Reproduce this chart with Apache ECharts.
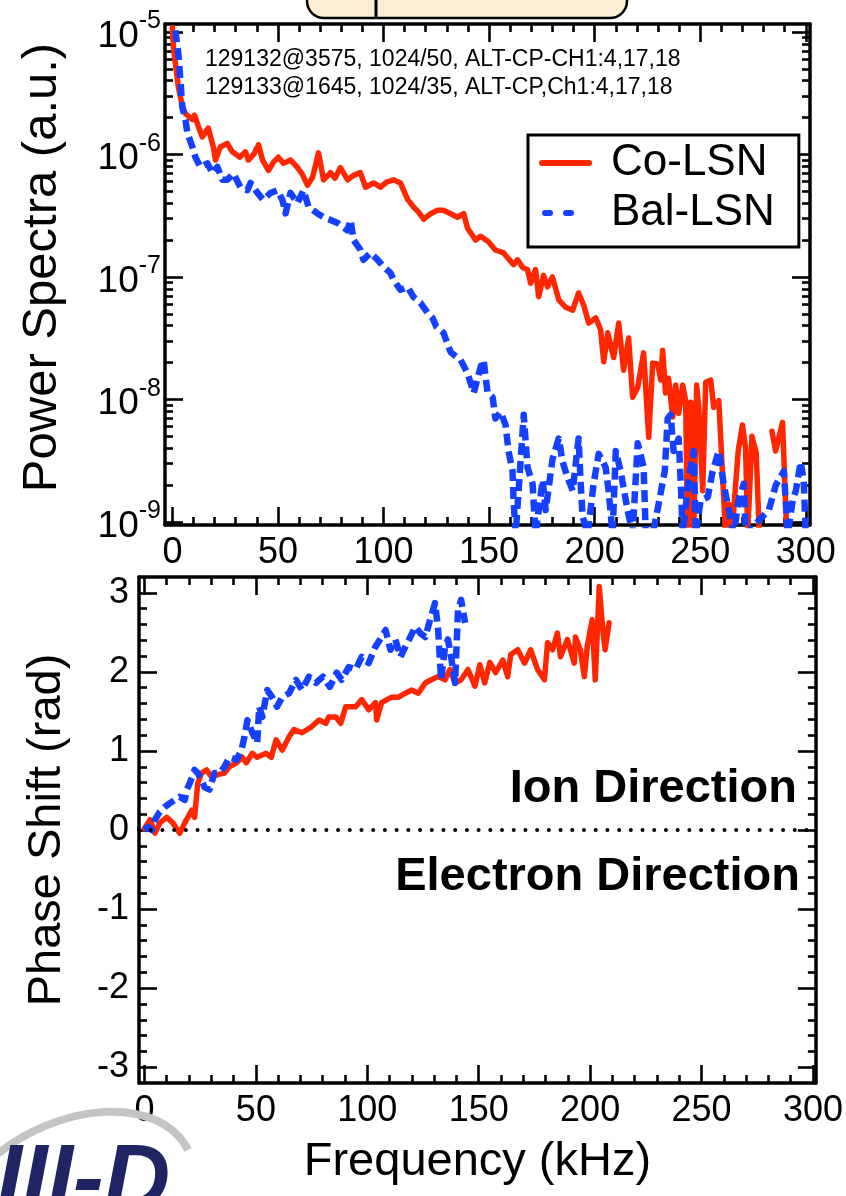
<!DOCTYPE html>
<html><head><meta charset="utf-8">
<script src="https://cdn.jsdelivr.net/npm/echarts@6/dist/echarts.min.js"></script>
<style>html,body{margin:0;padding:0;background:#fff}#c{width:846px;height:1196px}</style>
</head><body><div id="c"></div>
<script>
// ---------------- data ----------------
const seriesNames = ['Co-LSN', 'Bal-LSN'];
const annotationLines = ['129132@3575, 1024/50, ALT-CP-CH1:4,17,18', '129133@1645, 1024/35, ALT-CP,Ch1:4,17,18'];
const freqTicks = [0, 50, 100, 150, 200, 250, 300];
const spectrumTickValues = [1e-9, 1e-8, 1e-7, 1e-6, 1e-5];
const spectrumTickExponents = ['-9', '-8', '-7', '-6', '-5'];
const phaseTicks = [-3, -2, -1, 0, 1, 2, 3];

// Power spectra [kHz, a.u.]  (values below the axis floor fall off the plot)
const coLsnSpectrum = [
 [0,1.08e-5],[0.5,7.5e-6],[2.8,3.55e-6],[4.7,2.5e-6],[6.2,2.15e-6],[9.5,1.92e-6],[10.5,2.09e-6],[12.3,1.69e-6],
 [14.2,1.39e-6],[17,1.64e-6],[19.4,1.15e-6],[20.4,9.0e-7],[22.7,1.15e-6],[26,1.23e-6],[28.4,1.05e-6],[32,9.5e-7],
 [34.6,1.05e-6],[36,9.0e-7],[38.5,1.0e-6],[40.8,1.2e-6],[42.7,9.0e-7],[45.5,7.4e-7],[48,8.7e-7],[50.2,9.5e-7],
 [52.6,8.45e-7],[56,9.0e-7],[59,7.9e-7],[61.5,6.9e-7],[64,5.6e-7],[66.4,6.5e-7],[69.2,1.03e-6],[71.6,6.2e-7],
 [74.9,7.1e-7],[77,6.4e-7],[79.6,7.8e-7],[83,6.2e-7],[85.8,6.75e-7],[89,7.1e-7],[91.5,5.4e-7],[95.3,5.85e-7],
 [98.6,5.4e-7],[101.5,5.95e-7],[104.7,6.2e-7],[108,5.85e-7],[111.4,4.3e-7],[114.2,3.73e-7],[116.5,3.4e-7],[119,2.96e-7],
 [122.3,3.28e-7],[125.6,3.5e-7],[128.4,3.5e-7],[131.8,3.28e-7],[135,3.07e-7],[138,3.28e-7],[139.8,2.5e-7],[143.6,2.0e-7],
 [146,2.15e-7],[149.8,1.93e-7],[153,1.66e-7],[156.9,1.57e-7],[161.6,1.26e-7],[163.5,1.38e-7],[166,1.19e-7],[168.2,1.15e-7],
 [169.7,8.9e-8],[172,1.15e-7],[173.5,6.9e-8],[175.8,1.03e-7],[177.7,8.3e-8],[180,1.0e-7],[183,6.5e-8],[186.3,5.65e-8],
 [189.6,5.35e-8],[192.4,7.4e-8],[194.8,5.9e-8],[197.2,4.2e-8],[200.5,4.63e-8],[202.8,3.72e-8],[204.3,2.03e-8],[206.2,3.5e-8],
 [209,2.2e-8],[211.4,4.2e-8],[213.7,1.73e-8],[216.1,3.17e-8],[218,1.04e-8],[220.4,1.26e-8],[223.2,2.4e-8],[225.6,4.9e-9],
 [227.5,1.98e-8],[229.9,1.94e-8],[231.3,1.44e-8],[232.2,2.52e-8],[233.6,1.13e-8],[235,1.49e-8],[237,7.2e-9],[238.4,1.31e-8],
 [239.8,7.7e-9],[241.7,1.31e-8],[243.1,9.8e-9],[244,8e-10],[245.5,9.5e-9],[246.9,8e-10],[248.3,1.31e-8],[249.3,8.6e-9],
 [251.2,1.8e-9],[252.6,1.38e-8],[255,1.44e-8],[256.4,8.6e-9],[258.8,9.8e-9],[262,8e-10],[263.5,1.4e-9],[265,8e-10],
 [268,3.8e-9],[270,6.2e-9],[271.5,4e-9],[272.5,8e-10],[274.5,5e-9],[276.5,3.7e-9],[278,8e-10],[281,null],
 [284,5.5e-9],[285.7,3.8e-9],[289,6.5e-9],[291,8e-10]
];
const balLsnSpectrum = [
 [1.4,1.03e-5],[2.8,6.7e-6],[3.8,4.05e-6],[4.7,2.44e-6],[6.2,1.92e-6],[7.1,1.5e-6],[9.5,1.15e-6],[10.9,9.5e-7],
 [13.3,7.9e-7],[16.6,8.45e-7],[19,7.0e-7],[21.3,7.9e-7],[23.7,6.2e-7],[26,6.2e-7],[28.9,7.0e-7],[32.2,5.4e-7],
 [35.5,5.1e-7],[37,5.85e-7],[40.3,4.85e-7],[43.1,4.25e-7],[46.4,4.85e-7],[49.8,5.1e-7],[52.1,4.25e-7],[53.6,3.3e-7],
 [55.9,4.85e-7],[59.2,4.0e-7],[62.1,5.1e-7],[64.5,3.73e-7],[68.7,3.3e-7],[71.6,3.07e-7],[74.9,2.92e-7],[78.2,2.76e-7],
 [82.9,2.4e-7],[84.4,2.92e-7],[85.8,2.0e-7],[89.1,1.66e-7],[90.5,1.38e-7],[93.8,1.57e-7],[97.2,1.38e-7],[100,1.21e-7],
 [103.3,1.08e-7],[104.7,9.5e-8],[108,7.85e-8],[111.4,8.3e-8],[114.2,6.85e-8],[117.5,6.15e-8],[120.9,5.1e-8],[123.2,4.63e-8],
 [125,3.93e-8],[128.4,3.5e-8],[131.8,2.43e-8],[136.5,2.1e-8],[139.8,1.64e-8],[142.7,1.13e-8],[146,1.84e-8],[147.4,2.1e-8],
 [149.3,1.13e-8],[151.7,1.04e-8],[153,7e-9],[155.5,7.9e-9],[157.8,6.2e-9],[159.2,3.8e-9],[161.1,2.6e-9],[161.6,1.5e-9],
 [162.6,8e-10],[166.4,7.5e-9],[168.2,2.8e-9],[170.6,2.05e-9],[172,8e-10],[175.4,2.2e-9],[176.8,1.25e-9],[180.1,3.3e-9],
 [183,4.8e-9],[184.8,3.1e-9],[187.2,2.3e-9],[189.6,1.8e-9],[192.4,4.8e-9],[193.4,2.05e-9],[194.3,1.1e-9],[196.7,8e-10],
 [199.5,2.05e-9],[201.9,3.6e-9],[205.2,2.8e-9],[206.6,1.8e-9],[208.5,8e-10],[210,3.8e-9],[212.3,2.6e-9],[215.6,1.25e-9],
 [218,8e-10],[220.4,4.4e-9],[223.2,2.8e-9],[224.2,8e-10],[227.5,8e-10],[230.3,1.4e-9],[233.2,2.6e-9],[234.6,7e-9],
 [236,7.5e-9],[237.4,3.8e-9],[239.8,4.8e-9],[240.8,2.05e-9],[241.7,8e-10],[244.5,2.2e-9],[246.9,3.8e-9],[247.9,8e-10],
 [250.2,1.5e-9],[253.6,1.6e-9],[255.9,2.6e-9],[258.8,3.8e-9],[261.1,2.05e-9],[263,1.4e-9],[265.9,8e-10],[268.2,1.5e-9],
 [270.6,2.05e-9],[271.6,8e-10],[282.5,1.25e-9],[285.8,2e-9],[289.6,2.6e-9],[291.5,8e-10],[293.8,1.5e-9],[295.3,1.8e-9],
 [297.6,3.1e-9],[299,2.2e-9],[300,8e-10]
];
// Phase shift [kHz, rad]
const coLsnPhase = [
 [0,0.02],[2.5,0.13],[4.7,-0.04],[6.9,0.09],[10,0.16],[12.7,0.09],[15.8,-0.04],[18.1,0.09],[21.2,0.25],[22.5,0.16],
 [23.9,0.59],[25.6,0.72],[27.9,0.76],[30.1,0.67],[32.8,0.70],[35.9,0.72],[38.1,0.80],[41.3,0.85],[43.9,0.92],[45.7,0.85],
 [48.4,0.97],[50.6,0.92],[54.6,0.97],[56.9,0.92],[59.1,1.14],[61.8,1.01],[64.9,1.18],[67.1,1.27],[70.7,1.23],[74.7,1.30],
 [78.3,1.39],[81.4,1.35],[82.7,1.43],[85.9,1.43],[88.1,1.35],[90.3,1.56],[94.8,1.56],[97.5,1.65],[100.6,1.52],[103.7,1.61],
 [104.2,1.39],[106.4,1.61],[110.9,1.68],[114,1.68],[117.1,1.73],[119.8,1.77],[122.9,1.73],[126,1.86],[128.7,1.90],[131.8,1.94],
 [134.9,1.90],[137.1,2.03],[139.4,1.86],[142.1,1.90],[145.2,2.03],[148.3,1.82],[150.5,2.09],[152.7,1.86],[155,2.12],[157.6,1.99],
 [160.8,2.15],[163,1.94],[164.4,2.22],[167.5,2.28],[170.6,2.11],[173.3,2.28],[176.4,2.03],[179.5,1.90],[180.9,2.37],[183.1,2.28],
 [185.3,2.49],[186.7,2.19],[189.8,2.41],[192.9,2.11],[193.4,2.44],[195.6,2.28],[197.4,1.94],[198.7,2.32],[200.9,2.66],[202.3,1.90],
 [204.1,3.08],[205.4,2.62],[206.7,2.28],[208.5,2.62]
];
const balLsnPhase = [
 [0,0.0],[1.6,0.04],[3.3,0.0],[4.7,0.13],[6.9,0.23],[9.1,0.29],[11.4,0.34],[13.6,0.38],[15.8,0.42],[18.1,0.38],
 [19,0.51],[20.3,0.59],[22.5,0.76],[23.9,0.72],[25.6,0.63],[27,0.54],[29.2,0.51],[31.4,0.72],[33.7,0.72],[35.9,0.80],
 [38.1,0.92],[41.3,0.89],[43.5,1.01],[44.9,1.18],[46.2,1.39],[48.4,1.23],[50.6,1.10],[51.5,1.56],[52.9,1.43],[55.1,1.77],
 [57.3,1.68],[59.5,1.56],[61.8,1.68],[64.9,1.73],[68,1.90],[70.7,1.77],[73.8,1.94],[76.9,1.86],[80.1,1.94],[83.2,1.81],
 [86.3,1.99],[88.5,1.90],[91.7,2.06],[94.8,2.03],[97.5,2.19],[100.6,2.11],[103.7,2.32],[106.4,2.44],[108.2,2.53],[110.4,2.28],
 [112.6,2.41],[114.9,2.19],[117.1,2.32],[119.3,2.44],[121.5,2.57],[123.8,2.49],[126,2.44],[128.2,2.66],[130.4,2.87],[131.8,2.53],
 [133.1,1.90],[134.9,2.32],[136.2,2.41],[137.6,2.19],[139.4,1.86],[140.7,2.78],[142.1,2.91],[143.9,2.62]
];

// ---------------- minor tick positions ----------------
const freqMinorTicks = [];
for (let f = 10; f < 300; f += 10) if (f % 50) freqMinorTicks.push(f);
const spectrumMinorTicks = [];
for (let e = -9; e < -5; e++) for (let m = 2; m <= 9; m++) spectrumMinorTicks.push(+(m + 'e' + e));
const phaseMinorTicks = [];
for (let k = -15; k <= 15; k++) if (k % 5) phaseMinorTicks.push(k / 5);

// ---------------- styles ----------------
const FONT = "'Liberation Sans', Arial, Helvetica, sans-serif";
const RED = '#ff2600', BLUE = '#1440ff';
const AX = { color: '#000', width: 3.5 };
const TK = { color: '#000', width: 2.6 };
const MAJ = 18, MIN = 8;

function axis(o) {
  const a = {
    type: o.type || 'value', gridIndex: o.grid, position: o.pos, min: o.min, max: o.max,
    axisLine: { show: !!o.line, onZero: false, lineStyle: AX },
    axisTick: { show: true, inside: true, length: o.len, customValues: o.ticks, lineStyle: TK },
    axisLabel: { show: false },
    splitLine: { show: false },
    axisPointer: { show: false }
  };
  if (o.type === 'log') a.logBase = 10;
  if (o.label) a.axisLabel = Object.assign({ show: true, customValues: o.ticks }, o.label);
  if (o.name) Object.assign(a, o.name);
  return a;
}

const xLabel = { fontSize: 36, color: '#000', fontFamily: FONT, margin: 10 };
const topX = { grid: 0, min: -3.5, max: 302 };
const botX = { grid: 1, min: -2.45, max: 301.3 };
const topY = { grid: 0, type: 'log', min: 0.945e-9, max: 1.16e-5 };
const botY = { grid: 1, min: -3.2, max: 3.2 };

const xAxes = [
  axis(Object.assign({ pos: 'bottom', line: true, ticks: freqTicks, len: MAJ, label: xLabel }, topX)),
  axis(Object.assign({ pos: 'bottom', ticks: freqMinorTicks, len: MIN }, topX)),
  axis(Object.assign({ pos: 'top', line: true, ticks: freqTicks, len: MAJ }, topX)),
  axis(Object.assign({ pos: 'top', ticks: freqMinorTicks, len: MIN }, topX)),
  axis(Object.assign({ pos: 'bottom', line: true, ticks: freqTicks, len: MAJ, label: xLabel,
    name: { name: 'Frequency (kHz)', nameLocation: 'middle', nameGap: 56,
      nameTextStyle: { fontSize: 47, color: '#000', fontFamily: FONT } } }, botX)),
  axis(Object.assign({ pos: 'bottom', ticks: freqMinorTicks, len: MIN }, botX)),
  axis(Object.assign({ pos: 'top', line: true, ticks: freqTicks, len: MAJ }, botX)),
  axis(Object.assign({ pos: 'top', ticks: freqMinorTicks, len: MIN }, botX))
];

const logLabel = {
  margin: 4, color: '#000', fontFamily: FONT,
  formatter: v => {
    const i = spectrumTickValues.findIndex(t => Math.abs(Math.log10(t) - Math.log10(v)) < 1e-6);
    return '{b|10}{s|' + spectrumTickExponents[i] + '}';
  },
  rich: {
    b: { fontSize: 37, lineHeight: 46, verticalAlign: 'bottom', fontFamily: FONT, color: '#000' },
    s: { fontSize: 25, lineHeight: 46, verticalAlign: 'top', fontFamily: FONT, color: '#000' }
  }
};
const phaseLabel = { fontSize: 36, color: '#000', fontFamily: FONT, margin: 10 };

const yAxes = [
  axis(Object.assign({ pos: 'left', line: true, ticks: spectrumTickValues, len: MAJ, label: logLabel,
    name: { name: 'Power Spectra (a.u.)', nameLocation: 'middle', nameGap: 98, nameRotate: 90,
      nameTextStyle: { fontSize: 49, color: '#000', fontFamily: FONT, padding: [0, 0, 0, 14] } } }, topY)),
  axis(Object.assign({ pos: 'left', ticks: spectrumMinorTicks, len: MIN }, topY)),
  axis(Object.assign({ pos: 'right', line: true, ticks: spectrumTickValues, len: MAJ }, topY)),
  axis(Object.assign({ pos: 'right', ticks: spectrumMinorTicks, len: MIN }, topY)),
  axis(Object.assign({ pos: 'left', line: true, ticks: phaseTicks, len: MAJ, label: phaseLabel,
    name: { name: 'Phase Shift (rad)', nameLocation: 'middle', nameGap: 68, nameRotate: 90,
      nameTextStyle: { fontSize: 47, color: '#000', fontFamily: FONT } } }, botY)),
  axis(Object.assign({ pos: 'left', ticks: phaseMinorTicks, len: MIN }, botY)),
  axis(Object.assign({ pos: 'right', line: true, ticks: phaseTicks, len: MAJ }, botY)),
  axis(Object.assign({ pos: 'right', ticks: phaseMinorTicks, len: MIN }, botY))
];

const redLine = { color: RED, width: 5.5, cap: 'round', join: 'round' };
const blueLine = { color: BLUE, width: 6.5, type: [12, 6], join: 'round' };

const option = {
  animation: false,
  backgroundColor: '#fff',
  grid: [
    { left: 165, top: 24, width: 645, height: 501 },
    { left: 139, top: 577, width: 681, height: 506 }
  ],
  xAxis: xAxes,
  yAxis: yAxes,
  legend: {
    orient: 'vertical', left: 528, top: 135,
    padding: [6, 24, 12, 11],
    borderColor: '#000', borderWidth: 3, backgroundColor: '#fff',
    itemWidth: 47, itemHeight: 14, itemGap: 6,
    itemStyle: { opacity: 0 },
    lineStyle: { width: 6, cap: 'round' },
    textStyle: { fontSize: 44, lineHeight: 44, color: '#000', fontFamily: FONT, padding: [0, 0, 0, 17] },
    data: [
      { name: seriesNames[0], itemStyle: { opacity: 0 } },
      { name: seriesNames[1], itemStyle: { opacity: 0 },
        lineStyle: { type: [5, 16, 5, 100], dashOffset: -3, width: 6, cap: 'round' } }
    ],
    selectedMode: false
  },
  series: [
    { name: seriesNames[0], type: 'line', xAxisIndex: 0, yAxisIndex: 0, data: coLsnSpectrum,
      symbol: 'none', lineStyle: redLine, itemStyle: { color: RED }, connectNulls: false, z: 2 },
    { name: seriesNames[1], type: 'line', xAxisIndex: 0, yAxisIndex: 0, data: balLsnSpectrum,
      symbol: 'none', lineStyle: blueLine, itemStyle: { color: BLUE }, z: 3 },
    { name: seriesNames[0], type: 'line', xAxisIndex: 4, yAxisIndex: 4, data: coLsnPhase,
      symbol: 'none', lineStyle: redLine, itemStyle: { color: RED }, z: 2,
      markLine: { silent: true, symbol: ['none', 'none'], label: { show: false },
        lineStyle: { color: '#000', width: 4, type: [0.01, 11.7], cap: 'round' },
        data: [{ yAxis: 0 }] } },
    { name: seriesNames[1], type: 'line', xAxisIndex: 4, yAxisIndex: 4, data: balLsnPhase,
      symbol: 'none', lineStyle: blueLine, itemStyle: { color: BLUE }, z: 3 }
  ],
  graphic: [
    // cropped neighbouring panel at the top
    { type: 'rect', shape: { x: 307, y: -24, width: 320, height: 42, r: 17 },
      style: { fill: '#fcefd3', stroke: '#000', lineWidth: 2.5 }, z: 1 },
    { type: 'line', shape: { x1: 376, y1: 0, x2: 376, y2: 17 }, style: { stroke: '#000', lineWidth: 3 }, z: 2 },
    // cropped logo at bottom-left
    { type: 'bezierCurve', shape: { x1: -10, y1: 1160, cpx1: 60, cpy1: 1100, cpx2: 160, cpy2: 1095, x2: 188, y2: 1150 },
      style: { stroke: '#c4c4c4', lineWidth: 8, fill: null }, z: 1 },
    { type: 'text', left: -70, top: 1138,
      style: { text: 'DIII-D', fontSize: 92, fontWeight: 900, fontStyle: 'italic', fontFamily: FONT, fill: '#1f2463' }, z: 2 },
    // annotations
    { type: 'text', x: 205, y: 60,
      style: { text: annotationLines[0], fontSize: 23, fontFamily: FONT, fill: '#000', verticalAlign: 'middle' } },
    { type: 'text', x: 205, y: 88,
      style: { text: annotationLines[1], fontSize: 23, fontFamily: FONT, fill: '#000', verticalAlign: 'middle' } },
    { type: 'text', x: 797, y: 789,
      style: { text: 'Ion Direction', fontSize: 47, fontWeight: 'bold', fontFamily: FONT, fill: '#000', align: 'right', verticalAlign: 'middle' } },
    { type: 'text', x: 800, y: 877,
      style: { text: 'Electron Direction', fontSize: 47, fontWeight: 'bold', fontFamily: FONT, fill: '#000', align: 'right', verticalAlign: 'middle' } }
  ]
};

const chart = echarts.init(document.getElementById('c'), null, { renderer: 'canvas' });
chart.setOption(option);
</script></body></html>
